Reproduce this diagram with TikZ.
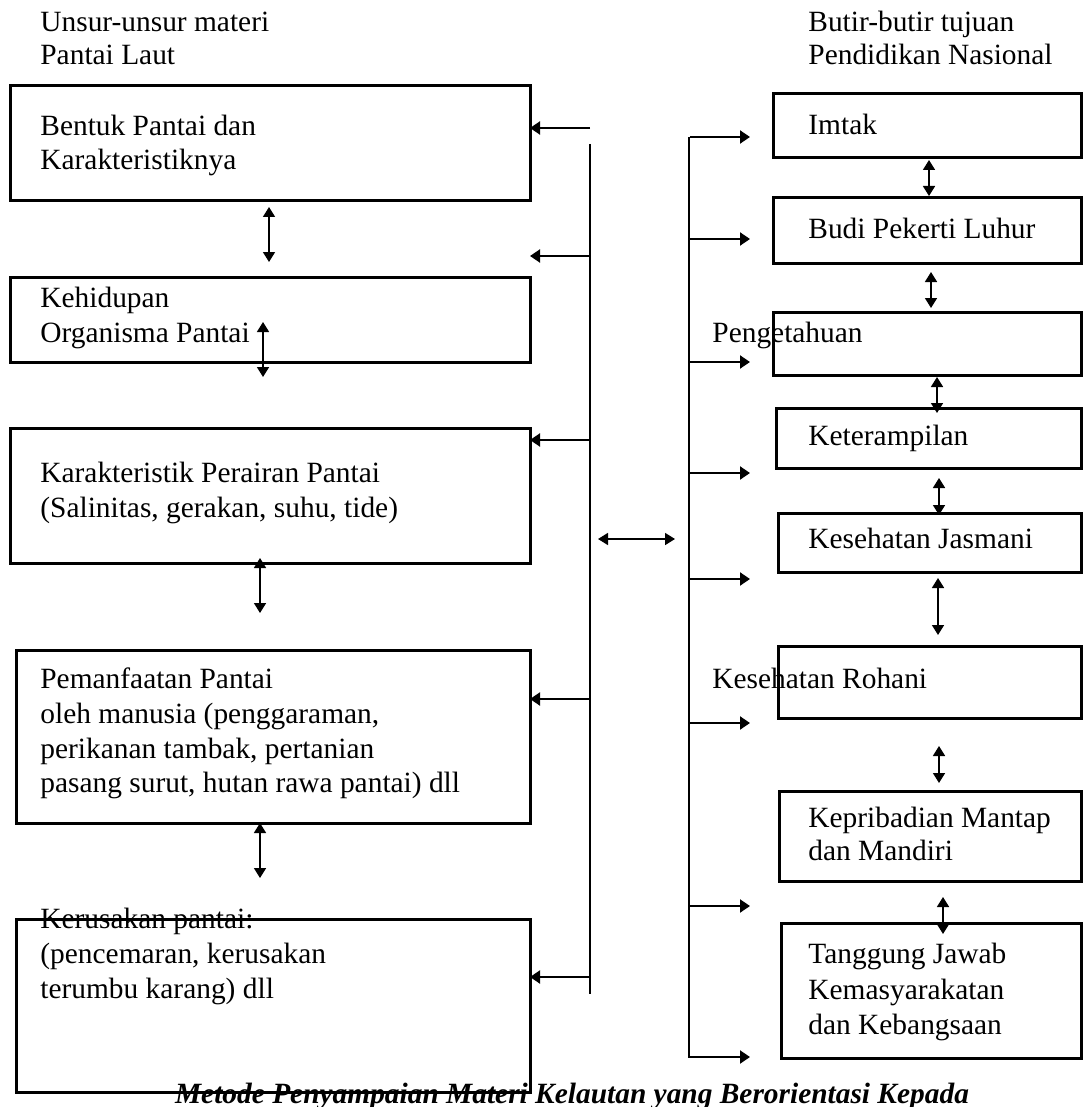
\documentclass[tikz,border=0pt]{standalone}
\usepackage{fontspec}
\setmainfont{Liberation Serif}
\usetikzlibrary{arrows.meta}
\newcommand\mkbox[5]{\node[boxst, minimum width={(#4-#2)*0.5pt}, minimum height={(#5-#3)*0.5pt}] (#1) at ({(#2+#4)/2},{(#3+#5)/2}) {};}
\begin{document}
\begin{tikzpicture}[x=0.5pt,y=-0.5pt,
  boxst/.style={draw, line width=1.5pt, rectangle, inner sep=0pt, outer sep=0pt},
  txt/.style={anchor=base west, inner sep=0pt, font=\fontsize{14.7}{17}\selectfont},
  arr/.style={line width=1pt, -{Triangle[length=5pt,width=6.5pt]}},
  darr/.style={line width=0.8pt, {Triangle[length=5pt,width=6pt]}-{Triangle[length=5pt,width=6pt]}},
  spine/.style={line width=1pt}]
\useasboundingbox (0,0) rectangle (1083,1107);
% headers
\node[txt] (h1) at (40,32) {Unsur-unsur materi};
\node[txt] (h2) at (40,65) {Pantai Laut};
\node[txt] (h3) at (808,32) {Butir-butir tujuan};
\node[txt] (h4) at (808,65) {Pendidikan Nasional};
% left boxes
\mkbox{b1}{10}{86}{530}{201}
\mkbox{b2}{10}{277}{530}{362}
\mkbox{b3}{10}{428}{530}{563}
\mkbox{b4}{16}{650}{530}{823}
\mkbox{b5}{16}{919}{530}{1092}
\node[txt] (t1a) at (40,136) {Bentuk Pantai dan};
\node[txt] (t1b) at (40,170) {Karakteristiknya};
\node[txt] (t2a) at (40,307) {Kehidupan};
\node[txt] (t2b) at (40,342) {Organisma Pantai};
\node[txt] (t3a) at (40,482) {Karakteristik Perairan Pantai};
\node[txt] (t3b) at (40,517) {(Salinitas, gerakan, suhu, tide)};
\node[txt] (t4a) at (40,688) {Pemanfaatan Pantai};
\node[txt] (t4b) at (40,723) {oleh manusia (penggaraman,};
\node[txt] (t4c) at (40,758) {perikanan tambak, pertanian};
\node[txt] (t4d) at (40,792) {pasang surut, hutan rawa pantai) dll};
\node[txt] (t5a) at (40,928) {Kerusakan pantai:};
\node[txt] (t5b) at (40,963) {(pencemaran, kerusakan};
\node[txt] (t5c) at (40,998) {terumbu karang) dll};
% right boxes
\mkbox{r1}{773}{94}{1081}{158}
\mkbox{r2}{773}{198}{1081}{263}
\mkbox{r3}{773}{312}{1081}{375}
\mkbox{r4}{776}{408}{1081}{468}
\mkbox{r5}{778}{513}{1081}{572}
\mkbox{r6}{778}{646}{1081}{718}
\mkbox{r7}{779}{791}{1081}{881}
\mkbox{r8}{781}{923}{1081}{1058}
\node[txt] (u1) at (808,135) {Imtak};
\node[txt] (u2) at (808,238) {Budi Pekerti Luhur};
\node[txt] (u3) at (712,342) {Pengetahuan};
\node[txt] (u4) at (808,445) {Keterampilan};
\node[txt] (u5) at (808,548) {Kesehatan Jasmani};
\node[txt] (u6) at (712,688) {Kesehatan Rohani};
\node[txt] (u7a) at (808,827) {Kepribadian Mantap};
\node[txt] (u7b) at (808,860) {dan Mandiri};
\node[txt] (u8a) at (808,963) {Tanggung Jawab};
\node[txt] (u8b) at (808,999) {Kemasyarakatan};
\node[txt] (u8c) at (808,1034) {dan Kebangsaan};
% left spine and arrows
\coordinate (ls1) at (590,144);
\coordinate (ls2) at (590,994);
\draw[spine] (ls1) -- (ls2);
\coordinate (L1) at (590,128);
\coordinate (L2) at (590,256);
\coordinate (L3) at (590,440);
\coordinate (L4) at (590,699);
\coordinate (L5) at (590,977);
\draw[arr] (L1) -- (L1 -| b1.east);
\draw[arr] (L2) -- (L2 -| b2.east);
\draw[arr] (L3) -- (L3 -| b3.east);
\draw[arr] (L4) -- (L4 -| b4.east);
\draw[arr] (L5) -- (L5 -| b5.east);
% right spine and arrows
\coordinate (rs1) at (689,137);
\coordinate (rs2) at (689,1058);
\draw[spine] (rs1) -- (rs2);
\foreach \n/\yy in {1/137,2/239,3/362,4/473,5/579,6/723,7/906,8/1057}{
  \coordinate (R\n) at (690,\yy);
  \coordinate (Re\n) at (750,\yy);
  \draw[arr] (R\n) -- (Re\n);
}
% middle double arrow
\coordinate (m1) at (598,539);
\coordinate (m2) at (675,539);
\draw[darr] (m1) -- (m2);
% left vertical double arrows
\coordinate (lv1a) at (269,207); \coordinate (lv1b) at (269,262);
\coordinate (lv2a) at (263,322); \coordinate (lv2b) at (263,377);
\coordinate (lv3a) at (260,558); \coordinate (lv3b) at (260,613);
\coordinate (lv4a) at (260,823); \coordinate (lv4b) at (260,878);
\draw[darr] (lv1a) -- (lv1b);
\draw[darr] (lv2a) -- (lv2b);
\draw[darr] (lv3a) -- (lv3b);
\draw[darr] (lv4a) -- (lv4b);
% right vertical double arrows
\coordinate (rv1a) at (929,160); \coordinate (rv1b) at (929,196);
\coordinate (rv2a) at (931,272); \coordinate (rv2b) at (931,308);
\coordinate (rv3a) at (937,377); \coordinate (rv3b) at (937,413);
\coordinate (rv4a) at (939,478); \coordinate (rv4b) at (939,515);
\coordinate (rv5a) at (938,578); \coordinate (rv5b) at (938,635);
\coordinate (rv6a) at (939,746); \coordinate (rv6b) at (939,783);
\coordinate (rv7a) at (943,897); \coordinate (rv7b) at (943,934);
\foreach \n in {1,...,7}{\draw[darr] (rv\n a) -- (rv\n b);}
% title
\node[anchor=base, inner sep=0pt, font=\fontsize{14.7}{17}\selectfont\bfseries\itshape] (title) at (572,1103) {Metode Penyampaian Materi Kelautan yang Berorientasi Kepada};
\end{tikzpicture}
\end{document}
